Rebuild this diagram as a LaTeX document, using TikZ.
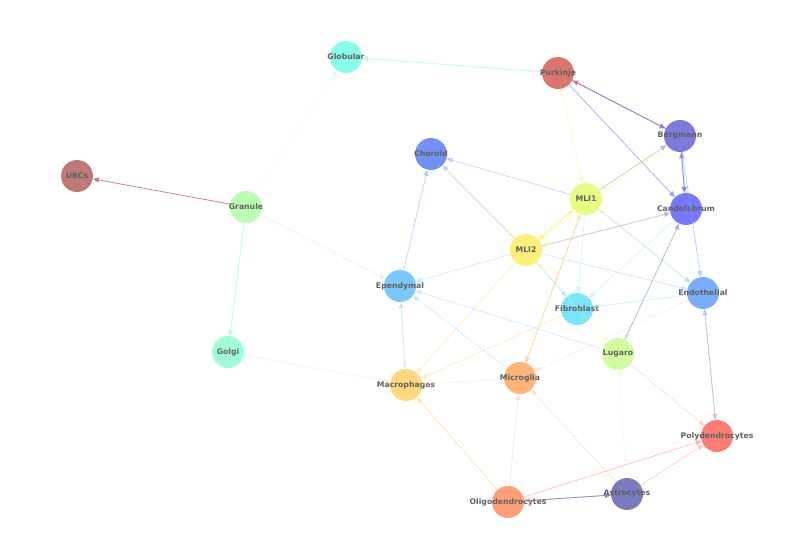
\documentclass[tikz,border=0pt]{standalone}
\usepackage{fontspec}
\setmainfont{DejaVu Sans}
\usetikzlibrary{arrows.meta}
\definecolor{cGlobular}{HTML}{88FCE8}
\definecolor{cPurkinje}{HTML}{D97670}
\definecolor{cBergmann}{HTML}{7B7BDB}
\definecolor{cChoroid}{HTML}{7390F5}
\definecolor{cUBCs}{HTML}{BD7B78}
\definecolor{cMLI1}{HTML}{E7FC85}
\definecolor{cCandelabrum}{HTML}{7878FC}
\definecolor{cGranule}{HTML}{BAFDB3}
\definecolor{cMLI2}{HTML}{FDF07A}
\definecolor{cEpendymal}{HTML}{7BC8FC}
\definecolor{cEndothelial}{HTML}{7AADFC}
\definecolor{cFibroblast}{HTML}{7BE5FC}
\definecolor{cGolgi}{HTML}{A1FBD6}
\definecolor{cLugaro}{HTML}{D3FCA0}
\definecolor{cMacrophages}{HTML}{FDD87F}
\definecolor{cMicroglia}{HTML}{FDB57A}
\definecolor{cPolydendrocytes}{HTML}{FC7D74}
\definecolor{cOligodendrocytes}{HTML}{FDA07A}
\definecolor{cAstrocytes}{HTML}{7B7BBF}
\tikzset{cell/.style={circle, inner sep=0pt, minimum size=0.64cm},
	celltext/.style={text=black!62}}
\begin{document}
\begin{tikzpicture}[x=0.02cm, y=-0.02cm, font=\fontsize{4.4}{5}\selectfont\bfseries, line join=round, line cap=round, >={Triangle[length=3.3pt,width=3pt]}]
		\useasboundingbox (0,0) rectangle (794,559);
		\foreach \n/\x/\y in {Globular/346/57, Purkinje/558/73, Bergmann/680/136, Choroid/431/154,
			UBCs/77/176, MLI1/586/199, Candelabrum/686/209, Granule/246/207, MLI2/526/250,
			Ependymal/400/286, Endothelial/703/293, Fibroblast/577/309, Golgi/228/352,
			Lugaro/618/354, Macrophages/406/385, Microglia/520/378, Polydendrocytes/717/436,
			Oligodendrocytes/508/502, Astrocytes/627/494}
			\node[cell, fill=c\n, label={[celltext]center:\n}] (\n) at (\x,\y) {};
		\foreach \a/\b/\o in {Purkinje/Globular/0.6, Granule/Globular/0.2, Granule/UBCs/0.9,
			Granule/Golgi/0.7, Granule/Ependymal/0.2, Golgi/Macrophages/0.3,
			Bergmann/Purkinje/0.8, Purkinje/Bergmann/0.8, Purkinje/MLI1/0.4, Purkinje/Candelabrum/0.6,
			MLI1/Bergmann/0.5, Bergmann/MLI1/0.5, Bergmann/MLI2/0.4, Bergmann/Candelabrum/0.8,
			Candelabrum/Bergmann/0.6, Bergmann/Endothelial/0.5, MLI1/Choroid/0.35, MLI2/Choroid/0.35,
			Choroid/MLI2/0.35, Ependymal/Choroid/0.4, MLI1/MLI2/0.7, MLI2/MLI1/0.7,
			MLI2/Candelabrum/0.5, Candelabrum/MLI2/0.4, MLI1/Endothelial/0.4, Endothelial/MLI1/0.4,
			MLI1/Fibroblast/0.3, MLI2/Ependymal/0.3, MLI2/Endothelial/0.3, MLI2/Fibroblast/0.5,
			Lugaro/MLI2/0.4, MLI2/Macrophages/0.4, Microglia/MLI1/0.5, MLI1/Microglia/0.5,
			Candelabrum/Fibroblast/0.3, Candelabrum/Lugaro/0.5, Lugaro/Candelabrum/0.5,
			Endothelial/Fibroblast/0.4, Endothelial/Polydendrocytes/0.4, Polydendrocytes/Endothelial/0.4,
			Endothelial/Microglia/0.2, Fibroblast/Macrophages/0.4, Lugaro/Ependymal/0.3,
			Lugaro/Polydendrocytes/0.25, Astrocytes/Lugaro/0.25, Astrocytes/Microglia/0.3,
			Astrocytes/Polydendrocytes/0.35, Astrocytes/Oligodendrocytes/0.6, Oligodendrocytes/Astrocytes/0.8,
			Oligodendrocytes/Polydendrocytes/0.45, Oligodendrocytes/Macrophages/0.6,
			Oligodendrocytes/Microglia/0.3, Microglia/Macrophages/0.3, Microglia/Ependymal/0.3,
			Ependymal/Macrophages/0.3, Macrophages/Ependymal/0.3}
			\draw[->, line width=0.45pt, c\b, opacity=\o] (\a)--(\b);
\end{tikzpicture}
\end{document}
